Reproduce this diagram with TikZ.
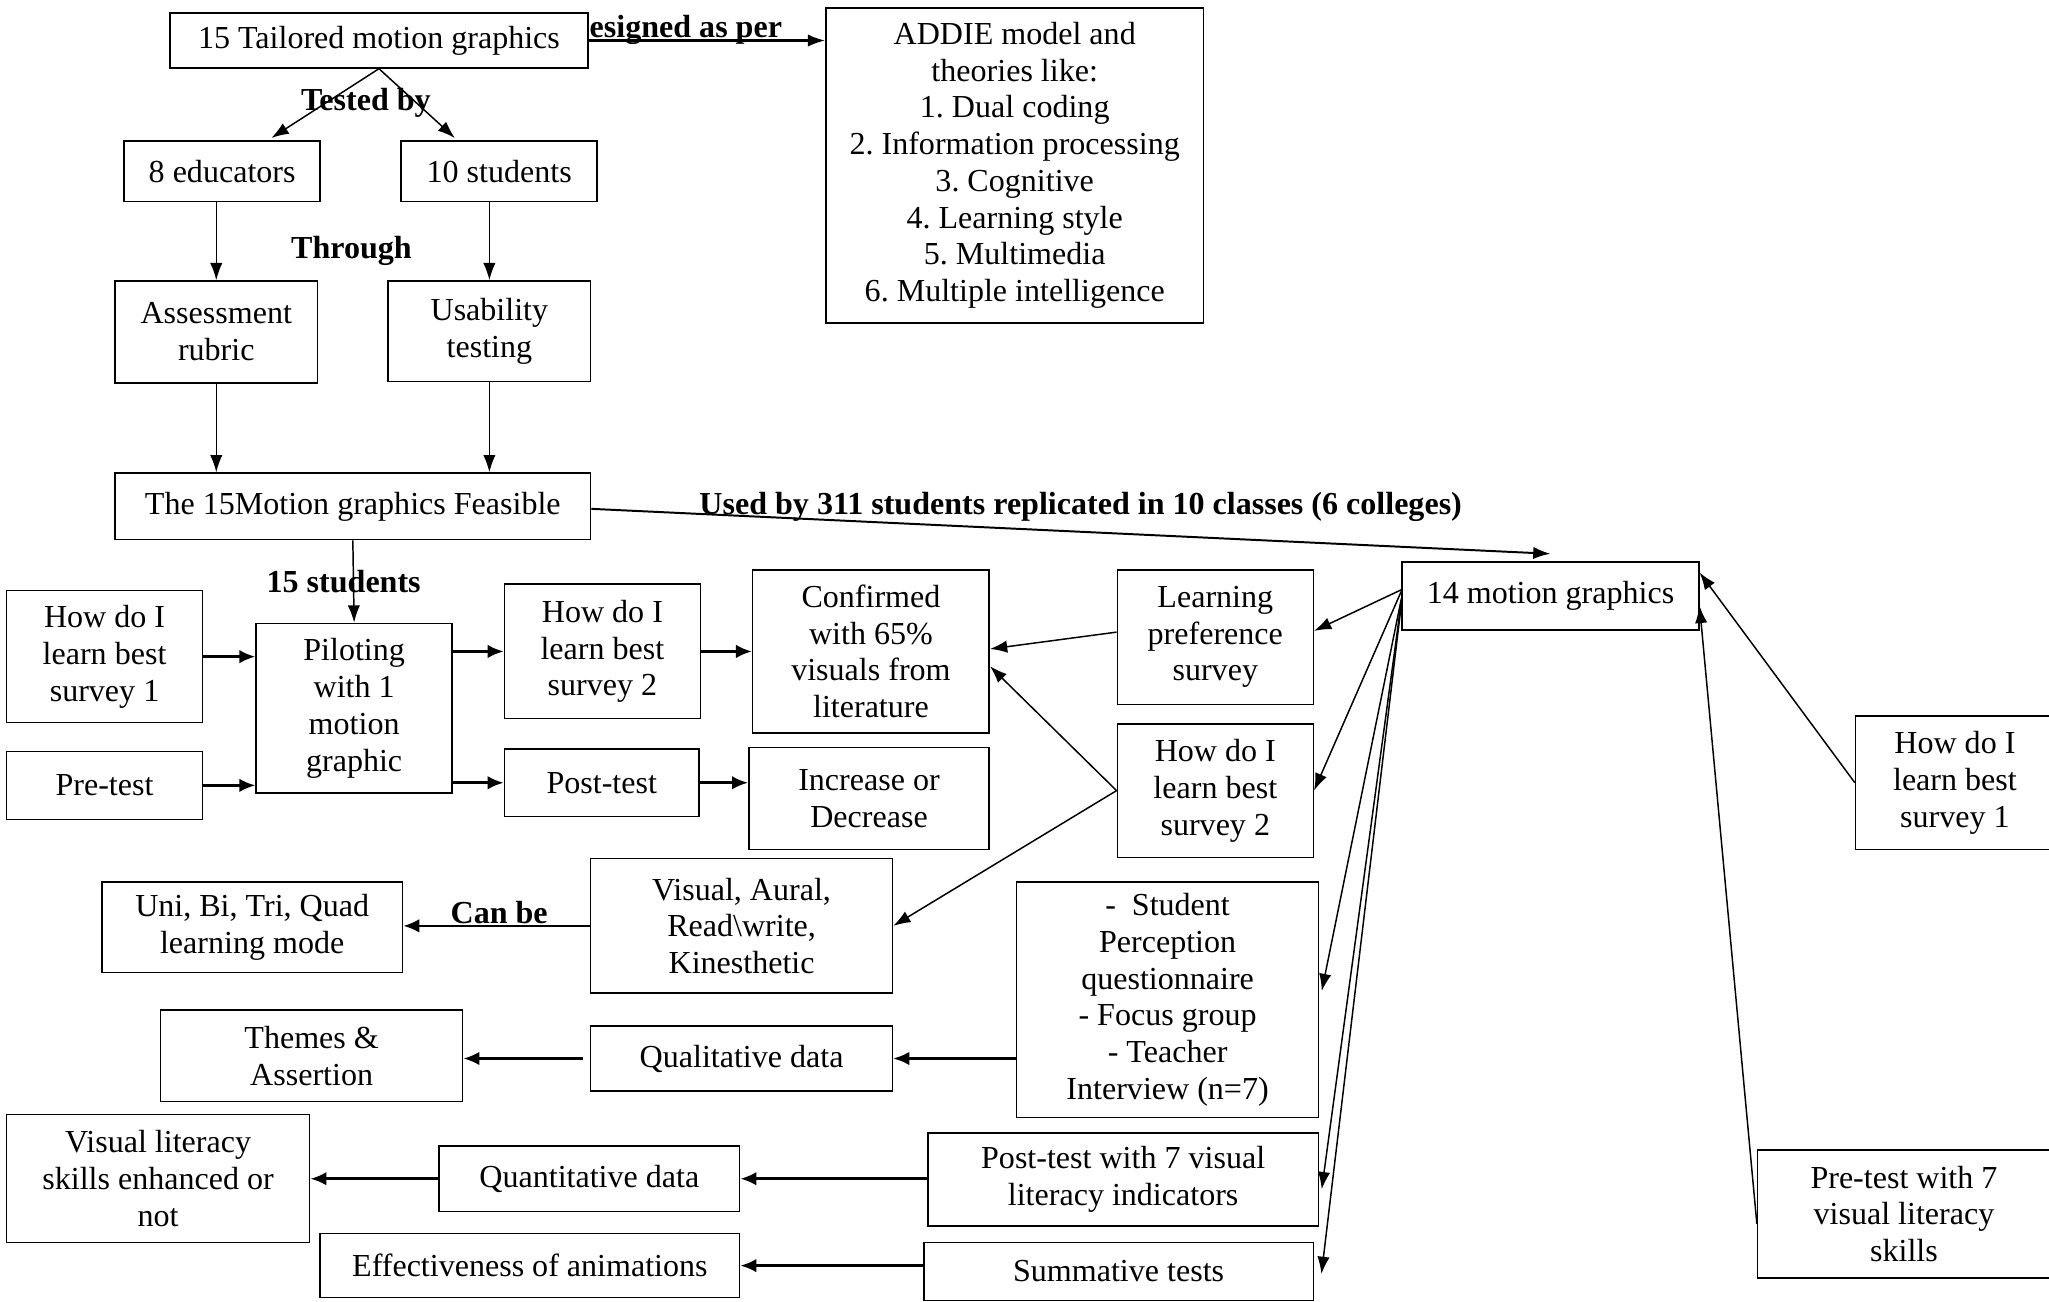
\documentclass[tikz,border=0pt]{standalone}
\usepackage{fontspec}
\setmainfont{Liberation Serif}
\usetikzlibrary{positioning,arrows.meta}
\newlength\pxu
\setlength\pxu{0.53pt}
\frenchspacing
\tikzset{
  box/.style={draw, fill=white, line width=0.6pt, align=center, inner sep=0pt},
  wh/.style 2 args={minimum width=#1*\pxu, minimum height=#2*\pxu},
  lbl/.style={font=\fontsize{13}{14.9}\selectfont\bfseries, inner sep=0pt},
  arr/.style={-{Latex[length=7pt,width=5pt]}, line width=0.6pt},
  thickarr/.style={-{Latex[length=6.5pt,width=5.5pt]}, line width=1.1pt},
}

\begin{document}
\begin{tikzpicture}[x=0.53pt, y=-0.53pt, font=\fontsize{13}{14.9}\selectfont]
\useasboundingbox (0,0) rectangle (1568,996);

% label sits behind the first box
\node[lbl] (lbldesigned) at (516,23) {Designed as per};

% design and feasibility
\node[box, wh={320}{42}] (t15) at (290,31) {15 Tailored motion graphics};
\node[box, wh={289}{241}] (addie) at (776.5,126.5) {ADDIE model and\\theories like:\\1. Dual coding\\2. Information processing\\3. Cognitive\\4. Learning style\\5. Multimedia\\6. Multiple intelligence};
\node[box, wh={150}{46}] (edu) at (170,131) {8 educators};
\node[box, wh={150}{46}] (stu) at (382,131) {10 students};
\node[box, wh={155}{78}] (rubric) at (165.5,254) {Assessment\\rubric};
\node[box, wh={155}{77}] (usab) at (374.5,253.5) {Usability\\testing};
\node[box, wh={364}{51}] (feas) at (270,387.5) {The 15Motion graphics Feasible};

% pilot study
\node[box, wh={150}{101}] (hbone) at (80,502.5) {How do I\\learn best\\survey 1};
\node[box, wh={150}{52}] (pre) at (80,601) {Pre-test};
\node[box, wh={150}{130}] (pilot) at (271,542) {Piloting\\with 1\\motion\\graphic};
\node[box, wh={150}{103}] (hbtwo) at (461,498.5) {How do I\\learn best\\survey 2};
\node[box, wh={149}{52}] (post) at (460.5,599) {Post-test};
\node[box, wh={181}{125}] (conf) at (666.5,498.5) {Confirmed\\with 65\%\\visuals from\\literature};
\node[box, wh={184}{78}] (incr) at (665,611) {Increase or\\Decrease};

% main study
\node[box, wh={227}{52}] (mfourteen) at (1186.5,456) {14 motion graphics};
\node[box, wh={150}{103}] (lps) at (930,487.5) {Learning\\preference\\survey};
\node[box, wh={150}{102}] (hbtwor) at (930,605) {How do I\\learn best\\survey 2};
\node[box, wh={152}{102}] (hboner) at (1496,599) {How do I\\learn best\\survey 1};
\node[box, wh={224}{98}] (preseven) at (1457,929) {Pre-test with 7\\visual literacy\\skills};
\node[box, wh={231}{103}] (vark) at (567.5,708.5) {Visual, Aural,\\Read\textbackslash write,\\Kinesthetic};
\node[box, wh={230}{69}] (mode) at (193,709.5) {Uni, Bi, Tri, Quad\\learning mode};
\node[box, wh={231}{180}] (spq) at (893.5,765) {-\ \ Student\\Perception\\questionnaire\\- Focus group\\- Teacher\\Interview (n=7)};
\node[box, wh={231}{50}] (qual) at (567.5,810) {Qualitative data};
\node[box, wh={231}{70}] (themes) at (238.5,808) {Themes \&\\Assertion};
\node[box, wh={299}{71}] (postseven) at (859.5,902.5) {Post-test with 7 visual\\literacy indicators};
\node[box, wh={230}{50}] (quant) at (451,902) {Quantitative data};
\node[box, wh={232}{98}] (vls) at (121,902) {Visual literacy\\skills enhanced or\\not};
\node[box, wh={298}{44}] (summ) at (856,973) {Summative tests};
\node[box, wh={321}{49}] (effect) at (405.5,968.5) {Effectiveness of animations};

% connectors, upper part
\draw[arr, line width=0.9pt] (t15.east) -- (t15.east -| addie.west);
\draw[arr] (t15.south) -- ([xshift=20pt,yshift=1pt]edu.north);
\draw[arr] (t15.south) -- ([xshift=-18pt,yshift=1pt]stu.north);
\draw[arr] (rubric.north |- edu.south) -- (rubric.north);
\draw[arr] (usab.north |- stu.south) -- (usab.north);
\draw[arr] (rubric.south) -- (rubric.south |- feas.north);
\draw[arr] (usab.south) -- (usab.south |- feas.north);
\draw[arr] (feas.south) -- (pilot.north);
\draw[arr, line width=0.8pt] ([yshift=-1pt]feas.east) -- ([yshift=3pt]mfourteen.north);

% connectors, pilot
\draw[thickarr] (hbone.east) -- (hbone.east -| pilot.west);
\draw[thickarr] (pre.east) -- (pre.east -| pilot.west);
\draw[thickarr] (hbtwo.west -| pilot.east) -- (hbtwo.west);
\draw[thickarr] (post.west -| pilot.east) -- (post.west);
\draw[thickarr] (hbtwo.east) -- (hbtwo.east -| conf.west);
\draw[thickarr] (post.east) -- (post.east -| incr.west);

% connectors, main study
\draw[arr] ([yshift=2pt]lps.west) -- ([yshift=1pt]conf.east);
\draw[arr] (hbtwor.west) -- ([yshift=-6pt]conf.east);
\draw[arr] (hbtwor.west) -- (vark.east);
\draw[arr] ([yshift=2.5pt]mfourteen.west) -- ([yshift=2.5pt]lps.east);
\draw[arr] ([yshift=2pt]mfourteen.west) -- (hbtwor.east);
\draw[arr] ([yshift=-1pt]mfourteen.west) -- ([xshift=1pt,yshift=3.5pt]spq.east);
\draw[arr] ([yshift=-2pt]mfourteen.west) -- ([xshift=1pt,yshift=-4pt]postseven.east);
\draw[arr] ([yshift=-3pt]mfourteen.west) -- ([xshift=3pt,yshift=-1pt]summ.east);
\draw[arr] (hboner.west) -- ([yshift=9.5pt]mfourteen.east);
\draw[arr] ([yshift=-4pt]preseven.west) -- ([yshift=-4pt]mfourteen.east);

% connectors, results
\draw[thickarr] (vark.west) -- (vark.west -| mode.east);
\draw[thickarr] (qual.east -| spq.west) -- (qual.east);
\draw[thickarr] ([xshift=-3pt]qual.west) -- (qual.west -| themes.east);
\draw[thickarr] (quant.east -| postseven.west) -- (quant.east);
\draw[thickarr] (quant.west) -- (quant.west -| vls.east);
\draw[thickarr] (effect.east -| summ.west) -- (effect.east);

% labels on connectors
\node[lbl] (lbltested) at (280,79) {Tested by};
\node[lbl] (lblthrough) at (269,192) {Through};
\node[lbl] (lblused) at (827,388) {Used by 311 students replicated in 10 classes (6 colleges)};
\node[lbl] (lblfifteen) at (263,445) {15 students};
\node[lbl] (lblcanbe) at (382,698) {Can be};
\end{tikzpicture}
\end{document}
